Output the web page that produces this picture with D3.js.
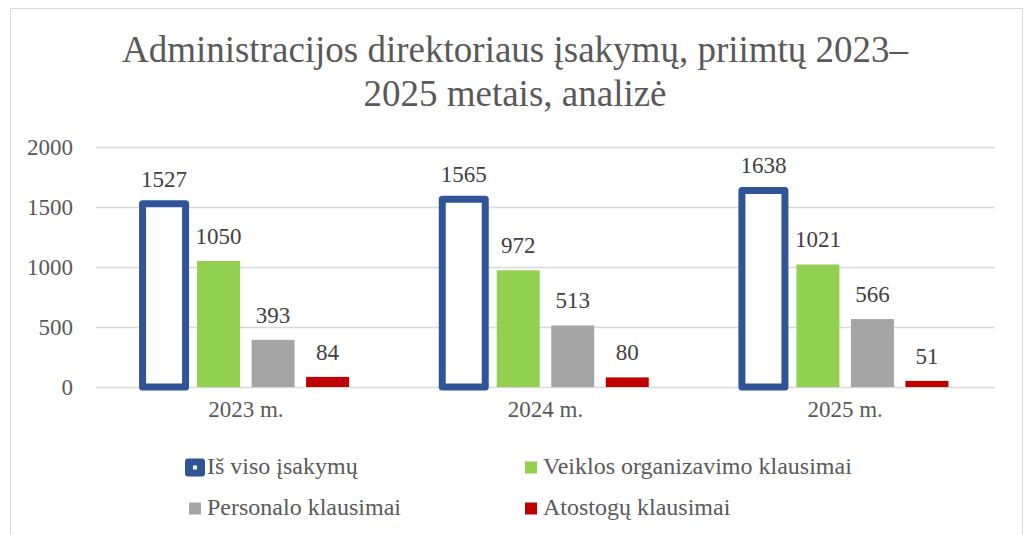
<!DOCTYPE html>
<html>
<head>
<meta charset="utf-8">
<script src="https://cdn.jsdelivr.net/npm/d3@7"></script>
<style>
  body { margin: 0; background: #fff; }
  text { font-family: "Liberation Serif", "Times New Roman", serif; }
</style>
</head>
<body>
<div id="chart"></div>
<script>
const years = ["2023 m.", "2024 m.", "2025 m."];
const seriesNames = ["Iš viso įsakymų", "Veiklos organizavimo klausimai", "Personalo klausimai", "Atostogų klausimai"];
const totalValues = [1527, 1565, 1638];
const veiklosValues = [1050, 972, 1021];
const personaloValues = [393, 513, 566];
const atostoguValues = [84, 80, 51];
const yTicks = [0, 500, 1000, 1500, 2000];
const colors = ["#2F5597", "#92D050", "#A5A5A5", "#C00000"];

const width = 1024;
const height = 535;

const margin = { top: 147, left: 96, right: 29, bottom: 148 };

const svg = d3.select("#chart")
    .append("svg")
    .attr("width", width)
    .attr("height", height);

// chart border
svg.append("rect")
    .attr("x", 10.5).attr("y", 8.5)
    .attr("width", 1012).attr("height", 540)
    .attr("fill", "none")
    .attr("stroke", "#d9d9d9")
    .attr("stroke-width", 1);

// title
const title = svg.append("text")
    .attr("text-anchor", "middle")
    .attr("fill", "#595959")
    .style("font-size", "37px");
title.append("tspan").attr("x", 515).attr("y", 62).text("Administracijos direktoriaus įsakymų, priimtų 2023–");
title.append("tspan").attr("x", 515).attr("y", 106).text("2025 metais, analizė");

const table = years.map((yr, i) => ({
    year: yr,
    values: [totalValues[i], veiklosValues[i], personaloValues[i], atostoguValues[i]]
}));

const x0 = d3.scaleBand()
    .domain(years)
    .range([margin.left, width - margin.right]);

const innerW = 206.5;
const x1 = d3.scaleBand()
    .domain(d3.range(seriesNames.length))
    .range([0, innerW])
    .paddingInner(0.211);

const yScale = d3.scaleLinear()
    .domain([0, 2000])
    .range([height - margin.bottom, margin.top]);

// gridlines + y labels
const yAxis = svg.append("g")
    .attr("transform", `translate(${margin.left},0)`)
    .call(d3.axisLeft(yScale)
        .tickValues(yTicks)
        .tickFormat(d3.format("d"))
        .tickSize(-(width - margin.left - margin.right))
        .tickPadding(23));
yAxis.select(".domain").remove();
yAxis.selectAll("line").attr("stroke", "#d9d9d9").attr("stroke-width", 1.5);
yAxis.selectAll("text")
    .attr("fill", "#595959")
    .style("font-size", "23px")
    .style("font-family", "Liberation Serif");

// x labels
const xAxis = svg.append("g")
    .attr("transform", `translate(0,${height - margin.bottom})`)
    .call(d3.axisBottom(x0).tickSize(0).tickPadding(14));
xAxis.select(".domain").remove();
xAxis.selectAll("text")
    .attr("fill", "#595959")
    .style("font-size", "23px")
    .style("font-family", "Liberation Serif");

const groups = svg.selectAll(".grp")
    .data(table)
    .enter()
    .append("g")
    .attr("class", "grp")
    .attr("transform", d => `translate(${x0(d.year) + (x0.bandwidth() - innerW) / 2},0)`);

groups.selectAll("rect")
    .data(d => d.values.map((v, k) => ({ k: k, v: v })))
    .enter()
    .append("rect")
    .attr("x", d => x1(d.k))
    .attr("y", d => yScale(d.v))
    .attr("width", x1.bandwidth())
    .attr("height", d => yScale(0) - yScale(d.v))
    .attr("fill", d => d.k === 0 ? "#fff" : colors[d.k])
    .attr("stroke", d => d.k === 0 ? colors[0] : "none")
    .attr("stroke-width", d => d.k === 0 ? 7 : 0)
    .attr("stroke-linejoin", "round");

groups.selectAll(".lbl")
    .data(d => d.values.map((v, k) => ({ k: k, v: v })))
    .enter()
    .append("text")
    .attr("class", "lbl")
    .attr("x", d => x1(d.k) + x1.bandwidth() / 2)
    .attr("y", d => yScale(d.v) - 17)
    .attr("text-anchor", "middle")
    .attr("fill", "#404040")
    .style("font-size", "23px")
    .text(d => d.v);

// legend
const legendPos = [
    { x: 185, y: 467.5 },
    { x: 525, y: 467.5 },
    { x: 189, y: 508.5 },
    { x: 525, y: 508.5 }
];

const legend = svg.selectAll(".leg")
    .data(seriesNames)
    .enter()
    .append("g")
    .attr("class", "leg")
    .attr("transform", (d, i) => `translate(${legendPos[i].x},${legendPos[i].y})`);

legend.each(function(d, i) {
    const g = d3.select(this);
    if (i === 0) {
        g.append("rect")
            .attr("x", 0).attr("y", -9)
            .attr("width", 20).attr("height", 18)
            .attr("rx", 3)
            .attr("fill", colors[0]);
        g.append("rect")
            .attr("x", 8).attr("y", -2)
            .attr("width", 4).attr("height", 4)
            .attr("fill", "#fff");
        g.append("text")
            .attr("x", 22).attr("y", 6)
            .attr("fill", "#595959")
            .style("font-size", "24px")
            .text(d);
    } else {
        g.append("rect")
            .attr("x", 0).attr("y", -6)
            .attr("width", 12).attr("height", 12)
            .attr("fill", colors[i]);
        g.append("text")
            .attr("x", 18).attr("y", 6)
            .attr("fill", "#595959")
            .style("font-size", "24px")
            .text(d);
    }
});
</script>
</body>
</html>
